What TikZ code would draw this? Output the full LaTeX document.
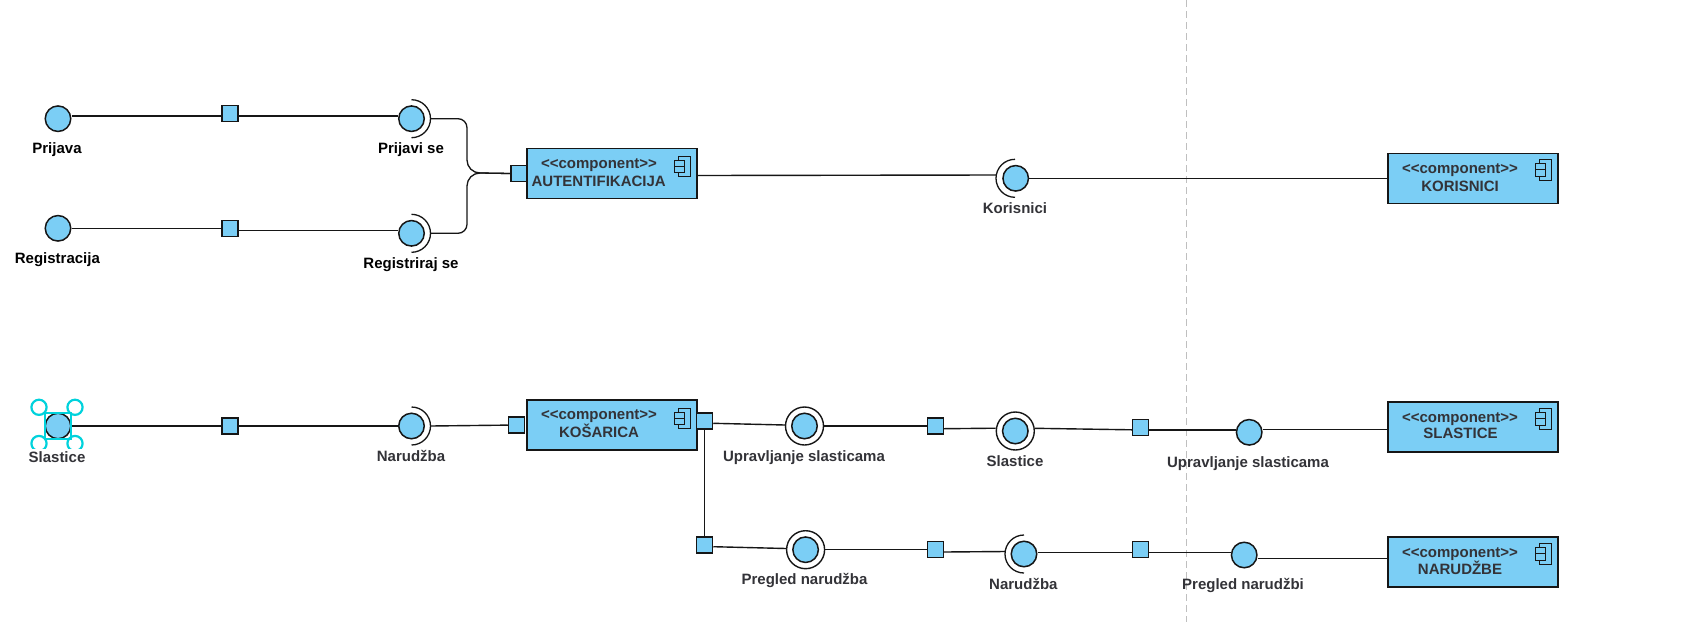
\documentclass[tikz,border=0pt]{standalone}
\usepackage{fontspec}
\setmainfont{Liberation Sans}
\definecolor{fillblue}{HTML}{7BCEF5}
\definecolor{edge}{HTML}{161616}
\definecolor{txt}{HTML}{333338}
\definecolor{sel}{HTML}{00D2DC}
\tikzset{
  x=1pt,y=-1pt,
  conn/.style={draw=edge,line width=1.4pt},
  lollipop/.style={circle,draw=edge,fill=fillblue,line width=1.5pt,minimum size=25.5pt,inner sep=0pt},
  ringout/.style={circle,draw=edge,fill=white,line width=1.4pt,minimum size=38pt,inner sep=0pt},
  port/.style={rectangle,draw=edge,fill=fillblue,line width=1.5pt,minimum width=16pt,minimum height=16pt,inner sep=0pt},
  compbox/.style={rectangle,draw=edge,fill=fillblue,line width=1.8pt,minimum width=170.5pt,minimum height=50pt,inner sep=0pt},
  lbl/.style={font=\bfseries\fontsize{15}{16}\selectfont,text=txt,inner sep=0pt,text height=11pt,text depth=0pt},
  lblk/.style={lbl,text=black},
  socket/.style={draw=edge,line width=1.3pt},
  selc/.style={draw=sel,line width=2.2pt}
}
\newcommand{\compicon}[2]{%
  \draw[draw=edge,line width=1pt,fill=fillblue] (#1+4.3,#2) rectangle (#1+16.7,#2+20.5);
  \draw[draw=edge,line width=1pt,fill=fillblue] (#1,#2+4) rectangle (#1+10,#2+10.3);
  \draw[draw=edge,line width=1pt,fill=fillblue] (#1,#2+10.3) rectangle (#1+10,#2+16.8);
}
\newcommand{\stereo}{<{}<component>{}>}
\begin{document}
\begin{tikzpicture}
\useasboundingbox (0,0) rectangle (1682,622);
\fill[white] (0,0) rectangle (1682,622);
\coordinate (dt) at (1186.8,0);
\coordinate (db) at (1186.8,622);
\draw[draw=black!25,line width=1.2pt,dash pattern=on 7pt off 4pt] (dt) -- (db);

% component boxes
\node[compbox] (aut) at (612,173.5) {};
\node[compbox] (kos) at (612,424.7) {};
\node[compbox] (kor) at (1473,178.5) {};
\node[compbox] (sla) at (1473,427.3) {};
\node[compbox] (nar) at (1473,562) {};
\node[lbl] (auta) at (599,163.3) {\stereo};
\node[lbl] (autb) at (598.7,180.7) {AUTENTIFIKACIJA};
\node[lbl] (kosa) at (599,414) {\stereo};
\node[lbl] (kosb) at (599,431.7) {KOŠARICA};
\node[lbl] (kora) at (1460,168.3) {\stereo};
\node[lbl] (korb) at (1460,185.7) {KORISNICI};
\node[lbl] (slaa) at (1460,417.3) {\stereo};
\node[lbl] (slab) at (1460.5,433.3) {SLASTICE};
\node[lbl] (nara) at (1460,552) {\stereo};
\node[lbl] (narb) at (1460,568.7) {NARUDŽBE};
\compicon{674}{156}
\compicon{674}{408}
\compicon{1535}{159.5}
\compicon{1535}{408.5}
\compicon{1535}{543.5}

% top left
\node[lollipop] (prij) at (58,118.7) {};
\node[port] (p1) at (230,113.7) {};
\node[lollipop] (prijse) at (411.5,118.7) {};
\node[lollipop] (reg) at (58,228.3) {};
\node[port] (p2) at (230,228.3) {};
\node[lollipop] (regse) at (411.5,233.3) {};
\node[port] (autp) at (519,173.5) {};
\draw[conn] (prij.east |- 0,116) -- (p1.west |- 0,116);
\draw[conn] (p1.east |- 0,116) -- (prijse.west |- 0,116);
\draw[conn] (reg) -- (p2);
\draw[conn] (p2.east |- 0,230.7) -- (regse.west |- 0,230.7);
\draw[socket] (411.5,99.7) arc[start angle=-90,end angle=90,radius=19];
\draw[socket] (411.5,214.3) arc[start angle=-90,end angle=90,radius=19];
\coordinate (j1) at (430.7,118.7);
\coordinate (j2) at (430.7,233.3);
\draw[conn,line width=1.3pt] (j1) -- (458,118.7) arc[start angle=-90,end angle=0,radius=9] -- (467,160) arc[start angle=180,end angle=90,radius=13] -- (autp.west);
\draw[conn,line width=1.3pt] (j2) -- (458,233.3) arc[start angle=90,end angle=0,radius=9] -- (467,186) arc[start angle=180,end angle=270,radius=13] -- (autp.west);
\node[lblk] (lprij) at (57,148) {Prijava};
\node[lblk] (lprijse) at (411,148) {Prijavi se};
\node[lblk] (lreg) at (57.4,258) {Registracija};
\node[lblk] (lregse) at (411,263) {Registriraj se};

% Korisnici
\node[lollipop] (kori) at (1015.7,178.3) {};
\coordinate (ks) at (996,175);
\draw[conn] (aut.east |- 0,175.5) -- (ks);
\draw[socket] (1015,159.3) arc[start angle=270,end angle=90,radius=19];
\draw[conn] (kori.east |- 0,178.5) -- (kor.west |- 0,178.5);
\node[lbl] (lkori) at (1015,208) {Korisnici};

% row 2
\node[lollipop] (sl) at (58,426) {};
\node[port] (p3) at (230,426) {};
\node[lollipop] (narz) at (411.5,426) {};
\node[port] (kosl) at (516.5,425) {};
\node[port] (kosr) at (704.5,420.8) {};
\node[port] (kosd) at (704.5,544.8) {};
\draw[conn] (sl) -- (p3);
\draw[conn] (p3) -- (narz);
\draw[socket] (411.5,407) arc[start angle=-90,end angle=90,radius=19];
\coordinate (ns) at (430.7,426);
\draw[conn] (ns) -- (kosl);
\draw[conn] (kosr) -- (kosd);
\node[port] at (704.5,420.8) {};
\node[port] at (704.5,544.8) {};

\node[ringout] (u1o) at (804.5,426) {};
\node[lollipop] (u1) at (804.5,426) {};
\node[port] (p4) at (935.4,426) {};
\node[ringout] (s1o) at (1015.3,431) {};
\node[lollipop] (s1) at (1015.3,431) {};
\node[port] (p5) at (1140.5,427.3) {};
\node[lollipop] (u2) at (1249.2,432.3) {};
\draw[conn] (kosr.east |- 0,423.3) -- (u1o.west |- 0,425);
\draw[conn] (u1o.east) -- (p4);
\draw[conn] (p4.east |- 0,428.7) -- (s1o.west |- 0,428.2);
\draw[conn] (s1o.east |- 0,428.3) -- (p5.west |- 0,429.8);
\draw[conn] (p5.east |- 0,430) -- (u2.west |- 0,430);
\draw[conn] (u2.east |- 0,429.7) -- (sla.west |- 0,429.7);

\node[ringout] (u3o) at (805.6,549.7) {};
\node[lollipop] (u3) at (805.6,549.7) {};
\node[port] (p6) at (935.4,549.7) {};
\node[lollipop] (n2) at (1024,554) {};
\node[port] (p7) at (1140.5,549.7) {};
\node[lollipop] (u4) at (1244.2,555) {};
\coordinate (n2s) at (1005.2,551.5);
\draw[conn] (kosd.east |- 0,546.7) -- (u3o.west |- 0,548.5);
\draw[conn] (u3o.east) -- (p6);
\draw[conn] (p6.east |- 0,552) -- (n2s);
\draw[socket] (1024,535) arc[start angle=270,end angle=90,radius=19];
\draw[conn] (n2.east |- 0,552.3) -- (p7.west |- 0,552.3);
\draw[conn] (p7.east |- 0,552.3) -- (u4.west |- 0,552.3);
\draw[conn] (u4.east |- 0,558.3) -- (nar.west |- 0,558.3);

\node[lbl] (l1) at (804,456) {Upravljanje slasticama};
\node[lbl] (l2) at (1015,461) {Slastice};
\node[lbl] (l3) at (1248,462) {Upravljanje slasticama};
\node[lbl] (l4) at (804.5,579) {Pregled narudžba};
\node[lbl] (l5) at (1023.4,584) {Narudžba};
\node[lbl] (l6) at (1243,584) {Pregled narudžbi};
\node[lbl] (l7) at (411,456) {Narudžba};

% selection handles
\begin{scope}
\clip (0,395) rectangle (120,448);
\foreach \cx/\cy in {39/407.3,75/407.3,39/443.5,75/443.5} \draw[selc] (\cx,\cy) circle[radius=7.6];
\end{scope}
\draw[draw=sel,line width=2pt] (45,412.7) rectangle (70.7,438.7);
\node[lbl] (l8) at (57,457) {Slastice};
\end{tikzpicture}
\end{document}
